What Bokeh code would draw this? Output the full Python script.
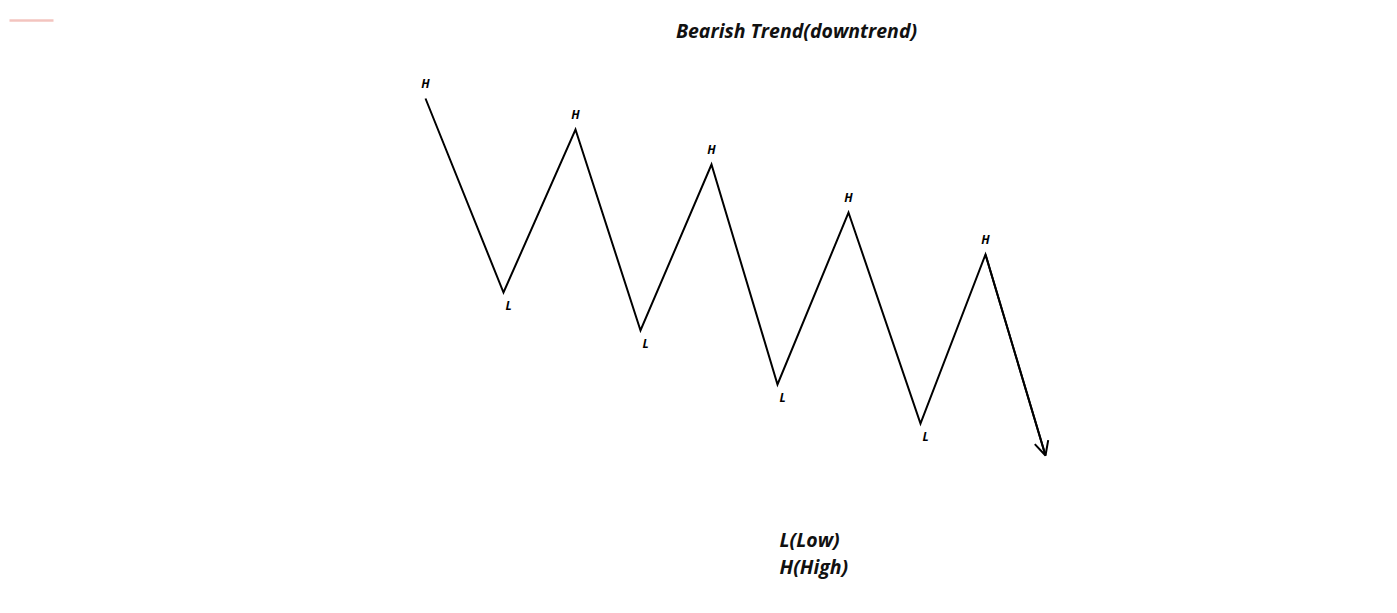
from bokeh.plotting import figure
from bokeh.models import Range1d, Arrow, OpenHead, Label
from bokeh.core.properties import value
from bokeh.embed import file_html
from bokeh.resources import INLINE

# swing points (x = time position, y = price level)
swing_x = [425, 503, 575, 640, 711, 777, 848, 920, 985]
swing_y = [515, 321, 484, 283, 449, 229, 401, 190, 359]
swing_label = ["H", "L", "H", "L", "H", "L", "H", "L", "H"]
# final leg continues down to the arrow tip
end_x = 1045
end_y = 158

title_text = "Bearish Trend(downtrend)"
legend_lines = ["L(Low)", "H(High)"]

# small pink stroke in top-left corner
corner_x = [9, 53]
corner_y = [593, 593]

W, H = 1381, 597
p = figure(width=W, height=H, output_backend="svg", toolbar_location=None,
           x_range=Range1d(0, W), y_range=Range1d(613 - H, 613),
           min_border=0, outline_line_color=None)
p.axis.visible = False
p.grid.visible = False
p.background_fill_color = "white"
p.border_fill_color = "white"

p.line(corner_x, corner_y, line_color="#f3c4bf", line_width=2.5)

p.line(swing_x + [end_x], swing_y + [end_y], line_color="black", line_width=2,
       line_join="miter")
p.add_layout(Arrow(end=OpenHead(size=14, line_width=2, line_color="black"),
                   x_start=swing_x[-1], y_start=swing_y[-1], x_end=end_x, y_end=end_y,
                   line_color="black", line_width=2))

hx = [x for x, l in zip(swing_x, swing_label) if l == "H"]
hy = [y for y, l in zip(swing_y, swing_label) if l == "H"]
lx = [x for x, l in zip(swing_x, swing_label) if l == "L"]
ly = [y for y, l in zip(swing_y, swing_label) if l == "L"]

p.text(x=hx, y=hy, text=["H"] * len(hx), text_font=value("Open Sans"),
       text_font_style="bold italic", text_font_size="12px", text_color="black",
       text_align="center", text_baseline="bottom", y_offset=-7)
p.text(x=lx, y=ly, text=["L"] * len(lx), text_font=value("Open Sans"),
       text_font_style="bold italic", text_font_size="12px", text_color="black",
       text_align="center", text_baseline="top", x_offset=5, y_offset=4)

p.add_layout(Label(x=796, y=613 - 30, text=title_text, text_font="Open Sans",
                   text_font_style="bold italic", text_font_size="19.5px",
                   text_align="center", text_baseline="middle", text_color="#111111"))

for i, t in enumerate(legend_lines):
    p.add_layout(Label(x=779, y=613 - 539 - 27 * i, text=t, text_font="Open Sans",
                       text_font_style="bold italic", text_font_size="19.5px",
                       text_align="left", text_baseline="middle", text_color="#111111"))

open("out.html", "w").write(file_html(p, INLINE))
